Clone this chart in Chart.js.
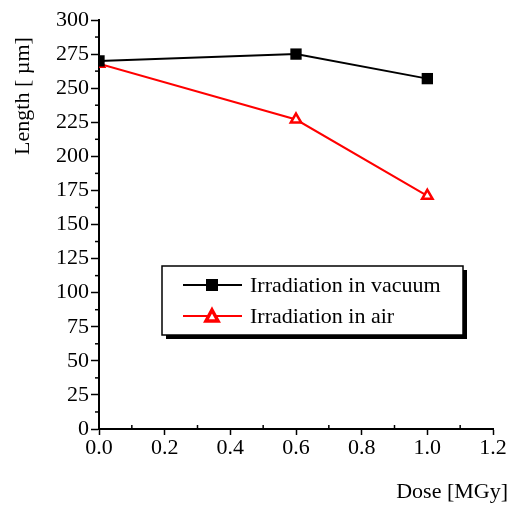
<!DOCTYPE html>
<html>
<head>
<meta charset="utf-8">
<script src="https://cdn.jsdelivr.net/npm/chart.js@4"></script>
<style>
  html, body { margin: 0; padding: 0; background: #fff; }
  #wrap { width: 509px; height: 506px; }
</style>
</head>
<body>
<div id="wrap"><canvas id="chart" width="509" height="506"></canvas></div>
<script>
// data
const doseValues = [0.0, 0.6, 1.0];
const vacuumLength = [270, 275, 257];
const airLength = [268, 227, 171];
const seriesNames = ["Irradiation in vacuum", "Irradiation in air"];
const xTitle = "Dose [MGy]";
const yTitle = "Length [ \u00b5m]";

const FONT = "Liberation Serif, Times New Roman, serif";

function toPoints(xs, ys) {
  return xs.map((x, i) => ({ x: x, y: ys[i] }));
}

// markers at x = 0 are cut by the y axis in the original
const clipLeft = {
  id: "clipLeft",
  beforeDatasetsDraw(chart) {
    const a = chart.chartArea;
    chart.ctx.save();
    chart.ctx.beginPath();
    chart.ctx.rect(a.left, 0, chart.width - a.left, chart.height);
    chart.ctx.clip();
  },
  afterDatasetsDraw(chart) {
    chart.ctx.restore();
  }
};

// minor ticks, axis titles and the boxed legend
const decorPlugin = {
  id: "decor",
  afterDraw(chart) {
    const ctx = chart.ctx;
    const xs = chart.scales.x;
    const ys = chart.scales.y;
    const area = chart.chartArea;
    ctx.save();
    ctx.strokeStyle = "#000";
    ctx.lineWidth = 1.5;
    // minor ticks
    for (let v = 0.1; v < 1.2; v += 0.2) {
      const px = xs.getPixelForValue(v);
      ctx.beginPath();
      ctx.moveTo(px, area.bottom);
      ctx.lineTo(px, area.bottom - 4);
      ctx.stroke();
    }
    for (let v = 12.5; v < 300; v += 25) {
      const py = ys.getPixelForValue(v);
      ctx.beginPath();
      ctx.moveTo(area.left, py);
      ctx.lineTo(area.left - 4, py);
      ctx.stroke();
    }

    // axis titles
    ctx.fillStyle = "#000";
    ctx.font = "22px " + FONT;
    ctx.textAlign = "right";
    ctx.textBaseline = "middle";
    ctx.fillText(xTitle, 508, 492);
    ctx.save();
    ctx.translate(23, 96);
    ctx.rotate(-Math.PI / 2);
    ctx.textAlign = "center";
    ctx.fillText(yTitle, 0, 0);
    ctx.restore();

    // legend box with shadow
    const bx = 162, by = 266, bw = 301, bh = 69;
    ctx.fillStyle = "#000";
    ctx.fillRect(bx + 4, by + 4, bw, bh);
    ctx.fillStyle = "#fff";
    ctx.fillRect(bx, by, bw, bh);
    ctx.strokeStyle = "#000";
    ctx.lineWidth = 1.5;
    ctx.strokeRect(bx, by, bw, bh);

    const rows = [285, 316];
    chart.data.datasets.forEach((ds, i) => {
      const y = rows[i];
      ctx.strokeStyle = ds.borderColor;
      ctx.lineWidth = 2;
      ctx.beginPath();
      ctx.moveTo(183, y);
      ctx.lineTo(242, y);
      ctx.stroke();
      if (ds.pointStyle === "rect") {
        ctx.fillStyle = "#000";
        ctx.fillRect(206, y - 6, 12, 12);
      } else {
        ctx.fillStyle = "#fff";
        ctx.strokeStyle = ds.borderColor;
        ctx.lineWidth = 3.5;
        ctx.beginPath();
        ctx.moveTo(212, y - 6);
        ctx.lineTo(218, y + 5);
        ctx.lineTo(206, y + 5);
        ctx.closePath();
        ctx.fill();
        ctx.stroke();
      }
      ctx.fillStyle = "#000";
      ctx.font = "22px " + FONT;
      ctx.textAlign = "left";
      ctx.textBaseline = "middle";
      ctx.fillText(ds.label, 250, y + 1);
    });
    ctx.restore();
  }
};

new Chart(document.getElementById("chart"), {
  type: "line",
  data: {
    datasets: [
      {
        label: seriesNames[0],
        data: toPoints(doseValues, vacuumLength),
        borderColor: "#000000",
        backgroundColor: "#000000",
        borderWidth: 2,
        pointStyle: "rect",
        pointRadius: 8,
        pointBorderWidth: 0,
        pointBackgroundColor: "#000000",
        clip: false,
      },
      {
        label: seriesNames[1],
        data: toPoints(doseValues, airLength),
        borderColor: "#ff0000",
        backgroundColor: "#ffffff",
        borderWidth: 2,
        pointStyle: "triangle",
        pointRadius: 6,
        pointBorderWidth: 2.5,
        pointBackgroundColor: "#ffffff",
        pointBorderColor: "#ff0000",
        clip: false,
      },
    ],
  },
  options: {
    responsive: false,
    animation: false,
    layout: { padding: { top: 20, right: 16, left: 0, bottom: 0 } },
    plugins: {
      legend: { display: false },
      tooltip: { enabled: false },
    },
    scales: {
      x: {
        type: "linear",
        min: 0,
        max: 1.2,
        ticks: {
          stepSize: 0.2,
          color: "#000",
          font: { family: FONT, size: 22 },
          padding: 0,
          maxRotation: 0,
          callback: (v) => v.toFixed(1),
        },
        grid: { drawOnChartArea: false, tickLength: 6, tickColor: "#000", tickWidth: 1.5 },
        border: { color: "#000", width: 2 },
        afterFit(scale) {
          scale.height = 77;
          scale.paddingLeft = 0;
          scale.paddingRight = 0;
        },
      },
      y: {
        min: 0,
        max: 300,
        ticks: {
          stepSize: 25,
          color: "#000",
          font: { family: FONT, size: 22 },
          padding: 2,
        },
        grid: { drawOnChartArea: false, tickLength: 8, tickColor: "#000", tickWidth: 1.5 },
        border: { color: "#000", width: 2 },
        afterFit(scale) {
          scale.width = 99;
          scale.paddingTop = 0;
          scale.paddingBottom = 0;
        },
      },
    },
  },
  plugins: [clipLeft, decorPlugin],
});
</script>
</body>
</html>
